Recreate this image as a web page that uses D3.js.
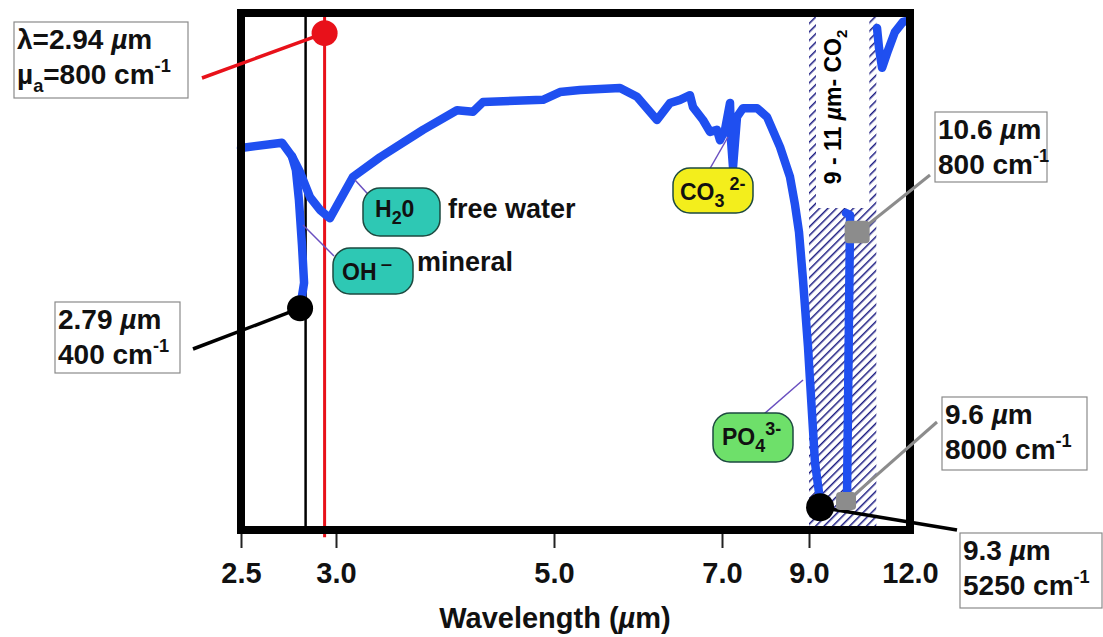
<!DOCTYPE html>
<html>
<head>
<meta charset="utf-8">
<script src="https://cdn.jsdelivr.net/npm/d3@7"></script>
<style>
  body { margin: 0; background: #fff; }
  svg { font-family: "Liberation Sans", Arial, Helvetica, sans-serif; font-weight: bold; }
</style>
</head>
<body>
<svg id="chart"></svg>
<script>
// axis ticks (the wavelength axis is not linear in the original)
var tickValues = [2.5, 3.0, 5.0, 7.0, 9.0, 12.0];
var tickLabels = ["2.5", "3.0", "5.0", "7.0", "9.0", "12.0"];

// main spectrum: wavelength (um) and relative height (0-100)
var specWl = [2.5, 2.716, 2.768, 2.811, 2.863, 2.916, 2.968, 3.018, 3.156, 3.404, 3.798, 4.11, 4.257, 4.349,
  4.899, 5.071, 5.31, 5.786, 5.988, 6.226, 6.381, 6.5, 6.619, 6.655, 6.774, 6.857, 6.94, 6.976, 7.069,
  7.184, 7.207, 7.253, 7.345, 7.483, 7.805, 8.034, 8.333, 8.563, 8.678, 8.77, 8.862, 8.977, 9.089, 9.178, 9.327];
var specVal = [73.9, 74.9, 72.3, 69.2, 64.4, 61.9, 60.3, 63.1, 68.3, 72.1, 77.4, 81.2, 80.9, 82.8,
  83.2, 84.7, 85.1, 85.5, 83.8, 79.3, 82.6, 83.2, 84.1, 81.8, 79.3, 77.0, 77.4, 75.4, 77.4,
  82.6, 75.4, 70.2, 79.9, 81.6, 81.6, 79.9, 74.1, 68.3, 62.9, 57.6, 48.4, 35.4, 22.6, 13.0, 5.8];

// OH- mineral branch
var ohWl = [2.768, 2.789, 2.805, 2.821, 2.832, 2.811];
var ohVal = [72.3, 69.6, 63.8, 55.1, 47.8, 42.9];

// second trace inside the CO2 band
var bandWl = [10.1, 10.22, 10.13];
var bandVal = [61.3, 60.9, 6.8];

// small piece at the top right
var tailWl = [11.02, 11.08, 11.17, 11.35, 11.55, 11.79, 11.94];
var tailVal = [97.1, 93.2, 89.4, 92.8, 96.3, 98.3, 98.5];

// CO2 laser band (um)
var bandRange = [9, 11];

// vertical guide lines
var guideWl = [2.84, 2.94];
var guideColor = ["#000", "#e8111a"];

// marked points and their labels
var markerWl = [2.94, 2.811, 9.33, 10.43, 10.1];
var markerVal = [96.1, 42.9, 4.4, 57.4, 5.4];
var markerLambda = ["2.94", "2.79", "9.3", "10.6", "9.6"];
var markerMu = ["800", "400", "5250", "800", "8000"];

var W = 1103, H = 637;
var svg = d3.select("#chart").attr("width", W).attr("height", H);

var x = d3.scaleLinear().domain(tickValues).range([241, 336, 554, 722, 809, 910]);
var y = d3.scaleLinear().domain([0, 100]).range([530, 13]);

// hatch pattern for the band
var defs = svg.append("defs");
defs.append("pattern")
  .attr("id", "hatch")
  .attr("patternUnits", "userSpaceOnUse")
  .attr("width", 6).attr("height", 6)
  .attr("patternTransform", "rotate(45)")
  .append("line")
  .attr("x1", 0).attr("y1", 0).attr("x2", 0).attr("y2", 6)
  .attr("stroke", "#1c1c82").attr("stroke-width", 3);

var bx0 = x(bandRange[0]), bx1 = x(bandRange[1]);
svg.append("rect")
  .attr("x", bx0).attr("y", y(100))
  .attr("width", bx1 - bx0).attr("height", y(0) - y(100))
  .attr("fill", "url(#hatch)");
// white label area in the upper part of the band
svg.append("rect")
  .attr("x", bx0 + 7).attr("y", y(100))
  .attr("width", bx1 - bx0 - 14).attr("height", 208 - y(100))
  .attr("fill", "#fff");

var bandText = svg.append("text")
  .attr("transform", "translate(841,107) rotate(-90)")
  .attr("text-anchor", "middle")
  .style("font-size", "23px");
bandText.append("tspan").text("9 - 11 ");
bandText.append("tspan").style("font-style", "italic").text("µ");
bandText.append("tspan").text("m- CO");
bandText.append("tspan").attr("dy", 6).style("font-size", "15px").text("2");

// guide lines
svg.selectAll(".guide")
  .data(guideWl)
  .enter()
  .append("line")
  .attr("class", "guide")
  .attr("x1", (d) => x(d)).attr("x2", (d) => x(d))
  .attr("y1", y(100)).attr("y2", (d, i) => (i == 1 ? y(-1.4) : y(0)))
  .attr("stroke", (d, i) => guideColor[i])
  .attr("stroke-width", (d, i) => (i == 1 ? 3 : 2.5));

// spectrum traces
var line = d3.line().x((d) => x(d[0])).y((d) => y(d[1]));
var traces = [
  d3.zip(specWl, specVal),
  d3.zip(ohWl, ohVal),
  d3.zip(bandWl, bandVal),
  d3.zip(tailWl, tailVal)
];
svg.selectAll(".trace")
  .data(traces)
  .enter()
  .append("path")
  .attr("class", "trace")
  .attr("d", line)
  .attr("fill", "none")
  .attr("stroke", "#1f4ff0")
  .attr("stroke-width", 8.5)
  .attr("stroke-linejoin", "round")
  .attr("stroke-linecap", "round");

// rich text helper: parts with sub / sup / italic
function richText(sel, tx, ty, parts, size, small) {
  small = small || 0.65;
  var t = sel.append("text").attr("x", tx).attr("y", ty).style("font-size", size + "px");
  var shift = 0;
  parts.forEach(function (p) {
    var target = p.sub ? size * 0.3 : p.sup ? -size * 0.42 : 0;
    var ts = t.append("tspan").attr("dy", target - shift).text(p.t);
    if (p.sub || p.sup) ts.style("font-size", size * small + "px");
    if (p.it) ts.style("font-style", "italic");
    shift = target;
  });
  return t;
}

// chemical group labels
var chem = [
  { x: 363, y: 188, w: 77, h: 48, fill: "#2ec8b4", tx: 375, ty: 217,
    parts: [{ t: "H" }, { t: "2", sub: 1 }, { t: "0" }], lead: [[355, 180], [376, 203]], side: "free water", sx: 448, sy: 218 },
  { x: 333, y: 248, w: 80, h: 46, fill: "#2ec8b4", tx: 342, ty: 280,
    parts: [{ t: "OH" }, { t: " \u2012", sup: 1 }], lead: [[303, 225], [334, 256]], side: "mineral", sx: 417, sy: 271 },
  { x: 673, y: 168, w: 80, h: 45, fill: "#f3ee1c", tx: 680, ty: 200,
    parts: [{ t: "CO" }, { t: "3", sub: 1 }, { t: " 2-", sup: 1 }], lead: [[708, 172], [728, 137]] },
  { x: 713, y: 413, w: 80, h: 49, fill: "#6ee06a", tx: 722, ty: 445,
    parts: [{ t: "PO" }, { t: "4", sub: 1 }, { t: "3-", sup: 1 }], lead: [[757, 420], [803, 380]] }
];
var cg = svg.append("g");
chem.forEach(function (c) {
  cg.append("line")
    .attr("x1", c.lead[0][0]).attr("y1", c.lead[0][1])
    .attr("x2", c.lead[1][0]).attr("y2", c.lead[1][1])
    .attr("stroke", "#6a4fc0").attr("stroke-width", 1.5);
  cg.append("rect")
    .attr("x", c.x).attr("y", c.y).attr("width", c.w).attr("height", c.h)
    .attr("rx", 17)
    .attr("fill", c.fill).attr("stroke", "#1d4a40").attr("stroke-width", 1.5);
  richText(cg, c.tx, c.ty, c.parts, 23, 0.78).attr("fill", "#111");
  if (c.side) {
    cg.append("text").attr("x", c.sx).attr("y", c.sy)
      .style("font-size", "27px").attr("fill", "#111").text(c.side);
  }
});

// frame
svg.append("rect")
  .attr("x", x(2.5)).attr("y", y(100))
  .attr("width", x(12) - x(2.5)).attr("height", y(0) - y(100))
  .attr("fill", "none").attr("stroke", "#000").attr("stroke-width", 8);

// x axis
var axis = svg.append("g")
  .attr("transform", "translate(0," + (y(0) + 4) + ")")
  .call(d3.axisBottom(x).tickValues(tickValues)
    .tickFormat((d, i) => tickLabels[i]).tickSize(14).tickPadding(14));
axis.select(".domain").remove();
axis.selectAll(".tick line").attr("stroke", "#222").attr("stroke-width", 2)
  .style("opacity", (d) => (d == 12 ? 0 : 1));
axis.selectAll(".tick text")
  .attr("fill", "#111")
  .style("font-size", "29px")
  .style("font-family", "'Liberation Sans', Arial, sans-serif")
  .style("font-weight", "bold");

var title = svg.append("text")
  .attr("x", 555).attr("y", 628)
  .attr("text-anchor", "middle")
  .style("font-size", "29px")
  .attr("fill", "#111");
title.append("tspan").text("Wavelength (");
title.append("tspan").style("font-style", "italic").text("µ");
title.append("tspan").text("m)");

// marker callouts
var boxes = [
  { x: 14, y: 22, w: 174, h: 76, lx: 202, ly: 78, color: "#e8111a" },
  { x: 55, y: 302, w: 125, h: 71, lx: 193, ly: 349, color: "#000" },
  { x: 960, y: 533, w: 142, h: 75, lx: 957, ly: 530, color: "#000" },
  { x: 935, y: 112, w: 112, h: 70, lx: 930, ly: 175, color: "#8c8c8c" },
  { x: 942, y: 397, w: 145, h: 73, lx: 937, ly: 422, color: "#8c8c8c" }
];

var mg = svg.append("g");
boxes.forEach(function (b, i) {
  var px = x(markerWl[i]), py = y(markerVal[i]);
  mg.append("line")
    .attr("x1", b.lx).attr("y1", b.ly).attr("x2", px).attr("y2", py)
    .attr("stroke", b.color).attr("stroke-width", i > 2 ? 3 : 3.5);
  if (b.color == "#8c8c8c") {
    var s = i == 3 ? 25 : 20;
    mg.append("rect")
      .attr("x", px - s / 2).attr("y", py - s / 2).attr("width", s).attr("height", s * 0.9)
      .attr("rx", 4).attr("fill", "#8c8c8c");
  } else {
    mg.append("circle")
      .attr("cx", px).attr("cy", py).attr("r", i == 2 ? 14 : 13)
      .attr("fill", b.color);
  }
  mg.append("rect")
    .attr("x", b.x).attr("y", b.y).attr("width", b.w).attr("height", b.h)
    .attr("fill", "#fff").attr("stroke", "#8a8a8a").attr("stroke-width", 1.2);
  var l1, l2;
  if (i == 0) {
    l1 = [{ t: "λ=" + markerLambda[i] + " " }, { t: "µ", it: 1 }, { t: "m" }];
    l2 = [{ t: "µ" }, { t: "a", sub: 1 }, { t: "=" + markerMu[i] + " cm" }, { t: "-1", sup: 1 }];
  } else {
    l1 = [{ t: markerLambda[i] + " " }, { t: "µ", it: 1 }, { t: "m" }];
    l2 = [{ t: markerMu[i] + " cm" }, { t: "-1", sup: 1 }];
  }
  richText(mg, b.x + 3, b.y + 27, l1, 28).attr("fill", "#111");
  richText(mg, b.x + 3, b.y + 62, l2, 28).attr("fill", "#111");
});
</script>
</body>
</html>
